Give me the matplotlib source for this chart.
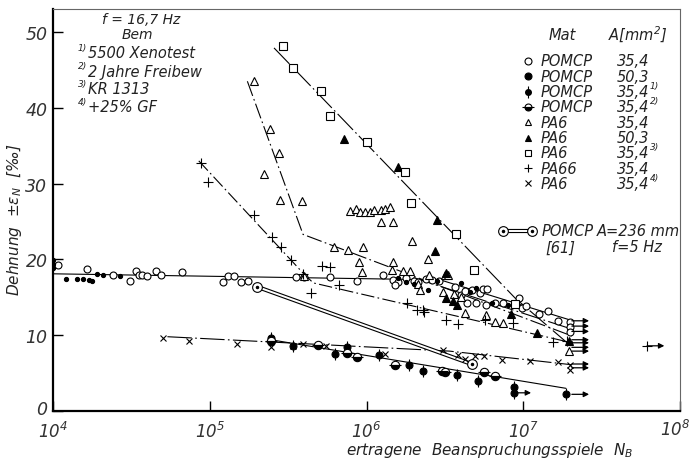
import matplotlib
matplotlib.use("Agg")
import matplotlib.pyplot as plt
import matplotlib.transforms as mtransforms
import numpy as np
from matplotlib.lines import Line2D

plt.rcParams['font.family'] = ['Liberation Sans Narrow', 'DejaVu Sans']
plt.rcParams['font.style'] = 'italic'
plt.rcParams['mathtext.fontset'] = 'custom'
plt.rcParams['mathtext.rm'] = 'DejaVu Sans:italic'
plt.rcParams['mathtext.it'] = 'DejaVu Sans:italic'

# ---------------- data (lgN = log10 of load cycles, eps in per mille) -------------
# POMCP 35.4 (open circles)
po_lgN = [4.03, 4.22, 4.38, 4.49, 4.53, 4.55, 4.57, 4.60, 4.66, 4.69, 4.82, 5.085, 5.115, 5.155,
          5.20, 5.245, 5.55, 5.60, 5.77, 5.94, 6.105, 6.17, 6.20, 6.25, 6.30, 6.33, 6.38, 6.42,
          6.46, 6.18, 6.565, 6.60, 6.63, 6.67, 6.725, 6.745, 6.77, 6.64, 6.70, 6.76, 6.82, 6.87,
          6.97, 6.99, 7.02, 7.10, 7.16, 7.22, 7.30, 7.30, 7.30]
po_eps = [19.3, 18.7, 17.9, 17.2, 18.5, 18.0, 17.9, 17.8, 18.5, 17.9, 18.3, 17.0, 17.8, 17.8,
          17.0, 17.2, 17.7, 17.7, 17.7, 17.2, 17.9, 17.3, 17.0, 17.5, 17.2, 17.0, 17.4, 17.3,
          17.1, 16.6, 16.4, 15.3, 15.8, 16.0, 15.6, 16.1, 16.1, 14.2, 14.2, 14.0, 14.3, 14.2,
          14.9, 13.6, 13.8, 12.8, 13.2, 11.9, 11.7, 11.1, 10.4]
# POMCP 50.3 (filled dots)
pf_lgN = [4.0, 4.0, 4.0, 4.08, 4.15, 4.19, 4.23, 4.25, 4.28, 4.32, 4.43,
          6.20, 6.25, 6.30, 6.39, 6.45, 6.60, 6.66, 6.70, 6.80, 6.90, 7.30]
pf_eps = [18.8, 19.4, 19.9, 17.4, 17.4, 17.4, 17.3, 17.2, 18.1, 17.9, 17.8,
          17.5, 17.0, 16.8, 16.0, 17.1, 16.9, 15.7, 16.2, 14.3, 14.0, 9.0]
# POMCP 35.4 1) and 2)
p1_lgN = [5.39, 5.53, 5.80, 5.875, 6.08, 6.27, 6.36, 6.58, 6.71, 6.94, 6.94, 7.27]
p1_eps = [9.6, 8.6, 7.5, 8.4, 7.4, 6.1, 5.3, 4.7, 4.0, 3.2, 2.4, 2.2]
p2_lgN = [5.39, 5.69, 5.875, 5.94, 6.18, 6.48, 6.50, 6.75, 6.82]
p2_eps = [9.2, 8.7, 7.7, 7.1, 6.1, 5.3, 5.2, 5.1, 4.6]
# PA6 35.4 (open triangles)
ao_lgN = [5.283, 5.385, 5.44, 5.347, 5.449, 5.589, 5.895, 5.93, 5.96, 5.99, 6.02, 6.05, 6.09,
          6.12, 6.15, 6.09, 6.17, 6.29, 5.79, 5.88, 5.98, 5.95, 6.17, 6.39, 6.163, 6.23, 6.28,
          5.97, 6.49, 6.50, 6.52, 6.63, 6.82, 6.87, 6.76, 7.29, 6.33, 6.34, 5.60, 6.40, 6.56,
          6.60]
ao_eps = [43.6, 37.2, 34.0, 31.3, 27.8, 27.7, 26.4, 26.6, 26.3, 26.3, 26.3, 26.5, 26.5,
          26.7, 26.9, 24.9, 24.9, 22.4, 21.6, 21.2, 21.6, 19.7, 19.7, 20.0, 18.6, 18.5, 18.5,
          18.3, 15.7, 17.9, 17.9, 12.9, 11.7, 11.6, 12.7, 7.9, 16.8, 16.0, 17.8, 18.0, 15.4,
          15.0]
# PA6 50.3 (filled triangles)
af_lgN = [5.857, 6.20, 6.45, 6.44, 6.51, 6.51, 6.55, 6.58, 6.92, 7.09, 7.29]
af_eps = [35.9, 32.2, 25.2, 21.1, 18.2, 14.9, 14.5, 14.0, 12.8, 10.3, 9.2]
# PA6 35.4 3) (open squares)
sq_lgN = [5.468, 5.532, 5.710, 5.768, 6.004, 6.246, 6.285, 6.572, 6.687, 6.948]
sq_eps = [48.2, 45.3, 42.2, 38.9, 35.5, 31.5, 27.4, 23.3, 18.6, 14.1]
# PA66 35.4 (plus)
pl_lgN = [4.944, 4.99, 5.28, 5.40, 5.455, 5.52, 5.595, 5.646, 5.717, 5.77, 5.825, 6.26, 6.32,
          6.36, 6.37, 6.51, 6.585, 6.757, 6.935, 7.19, 7.28, 7.79]
pl_eps = [32.7, 30.2, 25.9, 23.0, 21.6, 19.9, 18.1, 15.6, 19.1, 19.0, 16.6, 14.2, 13.3,
          13.3, 13.0, 12.0, 11.5, 12.0, 11.6, 9.1, 9.2, 8.6]
# PA6 35.4 4) (x)
xx_lgN = [4.70, 4.87, 5.175, 5.39, 5.53, 5.595, 5.74, 6.12, 6.49, 6.585, 6.63, 6.69, 6.75,
          6.865, 7.04, 7.22, 7.30, 7.30]
xx_eps = [9.6, 9.2, 8.8, 8.4, 8.6, 8.8, 8.6, 7.5, 8.0, 7.4, 6.9, 7.3, 7.3, 6.7, 6.6, 6.5,
          6.1, 5.4]
# POMCP A=236 mm [61]
ref_lgN = [5.30, 6.67]
ref_eps = [16.4, 6.2]
# run-outs (arrows)
ro_lgN = [7.31] * 10 + [6.94, 7.79]
ro_eps = [11.9, 11.2, 10.5, 9.4, 9.0, 8.4, 7.9, 6.2, 5.7, 2.2, 2.4, 8.6]
# fitted lines
l_po_lgN, l_po_eps = [4.0, 6.47, 7.30], [18.1, 17.3, 12.0]
l_ao_lgN, l_ao_eps = [5.24, 5.595, 7.31], [43.5, 23.3, 9.9]
l_sq_lgN, l_sq_eps = [5.41, 6.948, 7.28], [47.9, 14.9, 9.0]
l_pl_lgN, l_pl_eps = [4.93, 5.595, 5.66, 7.31], [33.0, 18.2, 16.9, 9.0]
l_xx_lgN, l_xx_eps = [4.73, 6.53, 7.31], [9.8, 7.9, 6.1]
l_p1_lgN, l_p1_eps = [5.39, 7.27], [9.4, 3.0]
l_af_lgN, l_af_eps = [6.30, 7.31], [17.6, 10.8]
xtick_vals = [1e4, 1e5, 1e6, 1e7, 1e8]
xtick_labels = [r'$10^{4}$', r'$10^{5}$', r'$10^{6}$', r'$10^{7}$', r'$10^{8}$']
ytick_vals = [0, 10, 20, 30, 40, 50]

def N(a):
    return 10 ** np.asarray(a, dtype=float)

W, H = 692, 460
fig = plt.figure(figsize=(W / 100, H / 100), dpi=100)
x0, x1, y0, y1 = 53, 680, 412, 10
ax = fig.add_axes([x0 / W, 1 - y0 / H, (x1 - x0) / W, (y0 - y1) / H])
ax.set_xscale('log')
ax.set_xlim(1e4, 1e8)
ax.set_ylim(0, (y0 - y1) / 7.58)

lw = 0.8
ax.plot(N(l_po_lgN), l_po_eps, color='k', lw=lw)
ax.plot(N(l_ao_lgN), l_ao_eps, color='k', lw=lw, linestyle=(0, (14, 3, 1.5, 3)))
ax.plot(N(l_sq_lgN), l_sq_eps, color='k', lw=lw, linestyle=(0, (20, 3, 1.5, 3)))
ax.plot(N(l_pl_lgN), l_pl_eps, color='k', lw=lw, linestyle=(0, (12, 3, 1.5, 3)))
ax.plot(N(l_xx_lgN), l_xx_eps, color='k', lw=lw, linestyle=(0, (22, 3, 1.5, 3)))
ax.plot(N(l_p1_lgN), l_p1_eps, color='k', lw=lw)
ax.plot(N(l_af_lgN), l_af_eps, color='k', lw=lw, linestyle=(0, (18, 3, 1.5, 3)))
# double line [61]
ax.plot(N(ref_lgN), ref_eps, color='k', lw=3.0, solid_capstyle='butt')
ax.plot(N(ref_lgN), ref_eps, color='white', lw=1.4, solid_capstyle='butt')
ax.plot(N(ref_lgN), ref_eps, 'o', ms=7, mfc='white', mec='k', mew=0.8)
ax.plot(N(ref_lgN), ref_eps, 'o', ms=1.5, color='k')

ms = 5
mk = dict(linestyle='none', markeredgecolor='k', markeredgewidth=0.8)
ax.plot(N(po_lgN), po_eps, 'o', ms=ms, mfc='white', **mk)
ax.plot(N(pf_lgN), pf_eps, 'o', ms=3, mfc='k', **mk)
ax.plot(N(p1_lgN), p1_eps, 'o', ms=5, mfc='k', **mk)
ax.plot(N(p1_lgN), p1_eps, '|', ms=9, **mk)
ax.plot(N(p2_lgN), p2_eps, 'o', ms=6, mfc='k', fillstyle='bottom', mfcalt='white', **mk)
ax.plot(N(p2_lgN), p2_eps, '_', ms=9, **mk)
ax.plot(N(ao_lgN), ao_eps, '^', ms=ms + 1, mfc='white', **mk)
ax.plot(N(af_lgN), af_eps, '^', ms=ms + 1, mfc='k', **mk)
ax.plot(N(sq_lgN), sq_eps, 's', ms=ms + 1, mfc='white', **mk)
ax.plot(N(pl_lgN), pl_eps, '+', ms=ms + 2, **mk)
ax.plot(N(xx_lgN), xx_eps, 'x', ms=ms, **mk)

for lg, e in zip(ro_lgN, ro_eps):
    ax.annotate('', xy=(10 ** (lg + 0.11), e), xytext=(10 ** lg, e),
                arrowprops=dict(arrowstyle='-|>', lw=0.9, color='k', mutation_scale=8,
                                shrinkA=0, shrinkB=0))

# axes styling
ax.spines['left'].set_linewidth(1.6)
ax.spines['bottom'].set_linewidth(1.6)
ax.spines['top'].set_linewidth(0.8)
ax.spines['right'].set_linewidth(0.8)
ax.spines['top'].set_color('#666666')
ax.spines['right'].set_color('#666666')
ax.set_yticks(ytick_vals)
ax.set_yticklabels([str(v) for v in ytick_vals])
ax.set_xticks(xtick_vals)
ax.set_xticklabels(xtick_labels[:-1] + [''])
ax.xaxis.set_minor_locator(matplotlib.ticker.NullLocator())
ax.tick_params(axis='both', direction='in', length=7, width=1.0, colors='k')
ax.tick_params(axis='x', pad=7, labelsize=12)
ax.tick_params(axis='y', pad=4, labelsize=12.5)
for t in ax.get_yticklabels() + ax.get_xticklabels():
    t.set_color('#333333')
# lift the "0" label slightly so it clears the 10^4 label
lbl0 = ax.get_yticklabels()[0]
lbl0.set_transform(lbl0.get_transform() +
                   mtransforms.ScaledTranslation(0, 4 / 100, fig.dpi_scale_trans))

def ft(px, py, s, **kw):
    kw.setdefault('fontsize', 10.5)
    kw.setdefault('color', '#222222')
    fig.text(px / W, 1 - py / H, s, va='center', **kw)

# last x tick label kept inside the canvas
ft(690, 430, xtick_labels[-1], ha='right', fontsize=12, color='#333333')

ft(15, 220, 'Dehnung  ±ε$_N$  [‰]', rotation=90, ha='center', fontsize=11)
ft(490, 451, 'ertragene  Beanspruchungsspiele  N$_B$', ha='center', fontsize=11)

# left annotation block
ft(102, 20, 'f = 16,7 Hz', ha='left', fontsize=10)
ft(122, 35, 'Bem', ha='left', fontsize=10)
rows = [('1)', '5500 Xenotest', 53), ('2)', '2 Jahre Freibew', 72),
        ('3)', 'KR 1313', 90), ('4)', '+25% GF', 108)]
for sup, txt, py in rows:
    ft(78, py - 5, sup, ha='left', fontsize=6.5)
    ft(88, py, txt, ha='left', fontsize=10.5)

# legend block
ft(549, 35, 'Mat', ha='left')
ft(608, 35, 'A[mm$^2$]', ha='left')
leg = [('o', 'white', 'POMCP', '35,4', ''), ('o', 'k', 'POMCP', '50,3', ''),
       ('p1', 'k', 'POMCP', '35,4', '1)'), ('p2', 'k', 'POMCP', '35,4', '2)'),
       ('^', 'white', 'PA6', '35,4', ''), ('^', 'k', 'PA6', '50,3', ''),
       ('s', 'white', 'PA6', '35,4', '3)'), ('+', 'k', 'PA66', '35,4', ''),
       ('x', 'k', 'PA6', '35,4', '4)')]
for i, (m, fc, mat, a, sup) in enumerate(leg):
    py = 62 + i * 15.3
    fx, fy = 528 / W, 1 - py / H
    if m == 'p1':
        fig.add_artist(Line2D([fx], [fy], marker='o', ms=4, mfc='k', mec='k'))
        fig.add_artist(Line2D([fx], [fy], marker='|', ms=8, mec='k', mew=0.8))
    elif m == 'p2':
        fig.add_artist(Line2D([fx], [fy], marker='o', ms=5, mfc='k', mec='k',
                              fillstyle='bottom', markerfacecoloralt='white', mew=0.8))
        fig.add_artist(Line2D([fx], [fy], marker='_', ms=9, mec='k', mew=0.8))
    else:
        fig.add_artist(Line2D([fx], [fy], marker=m, ms=5 if m != '+' else 6,
                              mfc=fc, mec='k', mew=0.8, linestyle='none'))
    ft(541, py, mat, ha='left')
    ft(617, py, a, ha='left')
    if sup:
        ft(650, py - 6, sup, ha='left', fontsize=6.5)

# [61] legend entry
fig.add_artist(Line2D([503 / W, 532 / W], [1 - 232 / H] * 2, color='k', lw=3.0,
                      solid_capstyle='butt'))
fig.add_artist(Line2D([503 / W, 532 / W], [1 - 232 / H] * 2, color='white', lw=1.4,
                      solid_capstyle='butt'))
for px in (503, 532):
    fig.add_artist(Line2D([px / W], [1 - 232 / H], marker='o', ms=7, mfc='white', mec='k',
                          mew=0.8))
    fig.add_artist(Line2D([px / W], [1 - 232 / H], marker='o', ms=1.5, color='k'))
ft(542, 232, 'POMCP', ha='left')
ft(597, 232, 'A=236 mm', ha='left')
ft(545, 248, '[61]', ha='left')
ft(612, 248, 'f=5 Hz', ha='left')

fig.savefig('out.png', dpi=100)
